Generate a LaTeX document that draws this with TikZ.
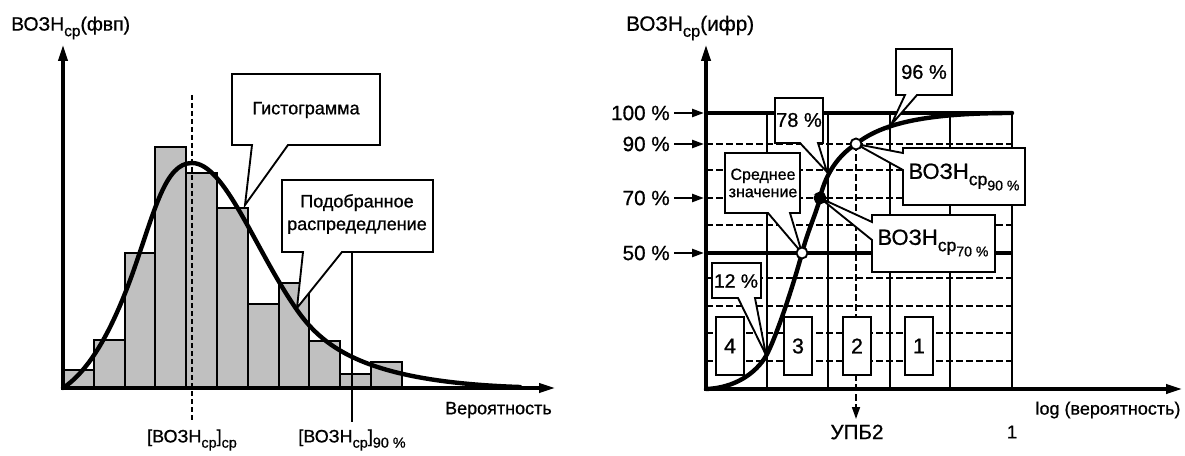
\documentclass[tikz,border=0pt]{standalone}
\usepackage{fontspec}
\usepackage{graphicx}
\setmainfont{Liberation Sans}[RawFeature={embolden=0.8}]
\usetikzlibrary{arrows.meta}

% lowered index, scaled
\newcommand{\lo}[1]{\raisebox{-0.55ex}{\scalebox{0.8}{#1}}}

\tikzset{
  axisline/.style={line width=2.3pt},
  histbar/.style={draw, line width=1.6pt, fill={rgb, 255:red, 192; green, 192; blue, 192}},
  fitcurve/.style={line width=3.3pt, line cap=round},
  gridsolid/.style={line width=1.5pt},
  gridthick/.style={line width=3pt},
  griddash/.style={line width=1.3pt, dash pattern=on 5pt off 2.5pt},
  callout/.style={draw, fill=white, line width=1.4pt, line join=miter},
  numbox/.style={draw, fill=white, line width=1.4pt, minimum width=21pt, minimum height=43.5pt, inner sep=0pt, font=\fontsize{16}{18}\selectfont},
  txtL/.style={inner sep=0pt, font=\fontsize{13.5}{16}\selectfont},
  txtR/.style={inner sep=0pt, font=\fontsize{15.5}{18}\selectfont},
  txtS/.style={inner sep=0pt, font=\fontsize{12}{14}\selectfont, align=center},
  bigtip/.style={-{Triangle[length=12pt,width=7pt]}},
  smalltip/.style={-{Triangle[length=9pt,width=6pt]}},
}

\begin{document}
\begin{tikzpicture}[x=0.75pt,y=0.75pt,yscale=-1,xscale=1]
\useasboundingbox (0,0) rectangle (1185,456);

%%%%% left: histogram %%%%%

%Shape: Rectangle (bars)
\draw [histbar] (63,388) rectangle (93.8,370) ;
\draw [histbar] (93.8,388) rectangle (124.6,340) ;
\draw [histbar] (124.6,388) rectangle (155.4,253) ;
\draw [histbar] (155.4,388) rectangle (186.2,147) ;
\draw [histbar] (186.2,388) rectangle (217,173) ;
\draw [histbar] (217,388) rectangle (247.8,208) ;
\draw [histbar] (247.8,388) rectangle (278.6,304) ;
\draw [histbar] (278.6,388) rectangle (309.4,283) ;
\draw [histbar] (309.4,388) rectangle (340.2,341) ;
\draw [histbar] (340.2,388) rectangle (371,374) ;
\draw [histbar] (371,388) rectangle (401.8,362) ;

%Straight Lines (mean and 90 %)
\draw [line width=0.9pt, dash pattern=on 4pt off 2pt] (192,95) -- (192,422) ;
\draw [line width=0.9pt] (352,250) -- (352,422) ;

%Curve Lines (fitted distribution)
\draw [fitcurve] (63,388) .. controls (90,370) and (112,330) .. (132,275) .. controls (155,210) and (165,163) .. (192,163) .. controls (225,163) and (255,250) .. (297,310) .. controls (325,350) and (370,382) .. (520,387) ;

%Axes
\draw [axisline, bigtip] (63,389) -- (63,45) ;
\draw [axisline, bigtip] (61,388) -- (555,388) ;

%Shape: Callout
\draw [callout] (232,74) -- (380,74) -- (380,145) -- (288,145) -- (245,205) -- (252,145) -- (232,145) -- cycle ;
\draw [callout] (282,180) -- (433,180) -- (433,252) -- (342,252) -- (297,308) -- (303,252) -- (282,252) -- cycle ;

%Text
\node [txtL, anchor=west, font=\fontsize{14.5}{17}\selectfont] (ylabL) at (11,28) {ВОЗН\lo{ср}(фвп)};
\node [txtL] (histo) at (306,110) {Гистограмма};
\node [txtL, align=center] (fitted) at (357,214) {Подобранное\\[1pt]распредедление};
\node [txtL, anchor=east] (xlabL) at (552,410) {Вероятность};
\node [txtL] (meanL) at (192,440) {[ВОЗН\lo{ср}]\lo{ср}};
\node [txtL] (p90L) at (352,440) {[ВОЗН\lo{ср}]\lo{90 \%}};

%%%%% right: cumulative %%%%%

%Straight Lines (dashed grid)
\draw [griddash] (706,361) -- (1012,361) ;
\draw [griddash] (706,333) -- (1012,333) ;
\draw [griddash] (706,306) -- (1012,306) ;
\draw [griddash] (706,278) -- (1012,278) ;
\draw [griddash] (706,225) -- (1012,225) ;
\draw [griddash] (706,198) -- (1012,198) ;
\draw [griddash] (706,170) -- (1012,170) ;
\draw [griddash] (706,144) -- (1012,144) ;

%Straight Lines (solid grid)
\draw [gridsolid] (767,113) -- (767,389) ;
\draw [gridsolid] (828,113) -- (828,389) ;
\draw [gridsolid] (890,113) -- (890,389) ;
\draw [gridsolid] (950,113) -- (950,389) ;
\draw [gridsolid] (1012,113) -- (1012,389) ;
\draw [gridthick] (706,113) -- (1012,113) ;
\draw [gridthick] (706,253) -- (1012,253) ;

%Straight Lines (УПБ2)
\draw [griddash, smalltip] (856,144) -- (856,419) ;

%Shape: Rectangle (boxes 1--4)
\node [numbox] (b4) at (730,346) {4};
\node [numbox] (b3) at (798,346) {3};
\node [numbox] (b2) at (857,346) {2};
\node [numbox] (b1) at (919,346) {1};

%Curve Lines (cumulative)
\draw [fitcurve] (706,389) .. controls (735,388) and (756,373) .. (766,356) .. controls (775,340) and (792,290) .. (802,253) .. controls (808,230) and (816,214) .. (820,198) .. controls (824,180) and (834,158) .. (856,144) .. controls (880,125) and (920,113) .. (1012,113) ;

%Axes
\draw [axisline, bigtip] (706,390) -- (706,45) ;
\draw [axisline, bigtip] (704,389) -- (1182,389) ;

%Shape: Callout
\draw [callout] (775,98) -- (823,98) -- (823,143) -- (818,143) -- (827,172) -- (800,143) -- (775,143) -- cycle ;
\draw [callout] (896,49) -- (952,49) -- (952,95) -- (917,95) -- (891,125) -- (905,95) -- (896,95) -- cycle ;
\draw [callout] (725,153) -- (800,153) -- (800,213) -- (790,213) -- (802,253) -- (768,213) -- (725,213) -- cycle ;
\draw [callout] (903,148) -- (1025,148) -- (1025,205) -- (903,205) -- (903,170) -- (856,144) -- (903,153) -- cycle ;
\draw [callout] (872,215) -- (995,215) -- (995,272) -- (872,272) -- (872,240) -- (820,198) -- (872,222) -- cycle ;
\draw [callout] (712,263) -- (761,263) -- (761,298) -- (755,298) -- (766,355) -- (738,298) -- (712,298) -- cycle ;

%Shape: Circle (points)
\draw [line width=1.4pt, fill=white] (802,253) circle [radius=5.5] ;
\draw [line width=1.4pt, fill=white] (856,144) circle [radius=5.5] ;
\draw [line width=1.4pt, fill=black] (820,198) circle [radius=5.5] ;

%Text
\node [txtR, anchor=west] (ylabR) at (626,28) {ВОЗН\lo{ср}(ифр)};
\node [txtR, anchor=east] (p100) at (670,113) {100 \%};
\node [txtR, anchor=east] (p90) at (670,144) {90 \%};
\node [txtR, anchor=east] (p70) at (670,198) {70 \%};
\node [txtR, anchor=east] (p50) at (670,253) {50 \%};
\coordinate (a100) at (704,113);
\coordinate (a90) at (704,144);
\coordinate (a70) at (704,198);
\coordinate (a50) at (704,253);
\draw [line width=1.8pt, smalltip] ([xshift=3pt]p100.east) -- (a100) ;
\draw [line width=1.8pt, smalltip] ([xshift=3pt]p90.east) -- (a90) ;
\draw [line width=1.8pt, smalltip] ([xshift=3pt]p70.east) -- (a70) ;
\draw [line width=1.8pt, smalltip] ([xshift=3pt]p50.east) -- (a50) ;

\node [txtR, font=\fontsize{15}{18}\selectfont] (t78) at (799,120) {78 \%};
\node [txtR, font=\fontsize{15}{18}\selectfont] (t96) at (924,72) {96 \%};
\node [txtR, font=\fontsize{14.5}{18}\selectfont] (t12) at (736,281) {12 \%};
\node [txtS] (tmean) at (763,183) {Среднее\\[-1pt]значение};
\node [txtR, font=\fontsize{16.5}{20}\selectfont] (t90) at (964,177) {ВОЗН\lo{ср\lo{90 \%}}};
\node [txtR, font=\fontsize{16.5}{20}\selectfont] (t70) at (933,243) {ВОЗН\lo{ср\lo{70 \%}}};

\node [txtR] (upb) at (857,432) {УПБ2};
\node [txtL, font=\fontsize{14}{16}\selectfont] (one) at (1012,432) {1};
\node [txtL] (xlabR) at (1108,410) {log (вероятность)};

\end{tikzpicture}
\end{document}
